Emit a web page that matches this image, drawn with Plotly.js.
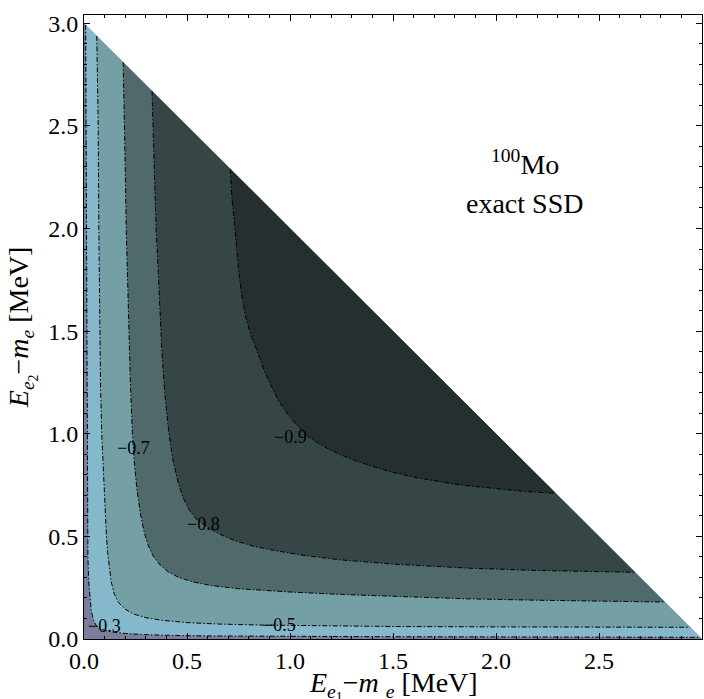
<!DOCTYPE html>
<html>
<head>
<meta charset="utf-8">
<script src="https://cdn.plot.ly/plotly-3.0.1.min.js"></script>
<style>
html,body{margin:0;padding:0;background:#fff;}
#chart svg text { font-family: 'Liberation Serif', 'Times New Roman', Times, serif !important; }
</style>
</head>
<body>
<div id="chart" style="width:704px;height:699px;"></div>
<script>
// Kinematic end point (plot units, MeV)
const Q = 3.0;

// Contour levels and their labels
const levels = [-0.3, -0.5, -0.7, -0.8, -0.9];
const levelLabels = ["\u22120.3", "\u22120.5", "\u22120.7", "\u22120.8", "\u22120.9"];
const labelX = [0.10, 0.95, 0.24, 0.58, 1.00];
const labelY = [0.063, 0.066, 0.93, 0.56, 0.985];

// Axis titles
const xTitle = "<i>E</i><sub><i>e</i><sub>1</sub></sub>\u2212<i>m</i> <sub><i>e</i></sub> [MeV]";
const yTitle = "<i>E</i><sub><i>e</i><sub>2</sub></sub>\u2212<i>m</i><sub><i>e</i></sub> [MeV]";

// Contour lines (E_e1 - m_e, E_e2 - m_e), from upper-left end to lower-right end
const c03x = [0.008, 0.010, 0.011, 0.012, 0.013, 0.016, 0.019, 0.023, 0.028, 0.035, 0.045, 0.058, 0.075, 0.100, 0.140, 0.200, 0.280, 0.400, 0.600, 1.000, 1.500, 2.000, 2.500, 2.992];
const c03y = [2.992, 2.500, 2.000, 1.500, 1.000, 0.600, 0.400, 0.280, 0.200, 0.140, 0.095, 0.068, 0.052, 0.042, 0.034, 0.027, 0.022, 0.018, 0.015, 0.012, 0.011, 0.010, 0.009, 0.008];

const c05x = [0.062, 0.066, 0.069, 0.072, 0.076, 0.080, 0.086, 0.094, 0.102, 0.109, 0.115, 0.122, 0.132, 0.146, 0.167, 0.200, 0.240, 0.300, 0.380, 0.500, 0.650, 0.850, 1.000, 1.250, 1.500, 2.000, 2.500, 2.943];
const c05y = [2.938, 2.700, 2.500, 2.000, 1.500, 1.250, 1.000, 0.800, 0.620, 0.500, 0.420, 0.350, 0.280, 0.222, 0.178, 0.145, 0.122, 0.104, 0.091, 0.080, 0.073, 0.068, 0.066, 0.063, 0.061, 0.059, 0.057, 0.057];

const c07x = [0.190, 0.195, 0.200, 0.205, 0.212, 0.218, 0.225, 0.235, 0.245, 0.258, 0.274, 0.290, 0.310, 0.335, 0.370, 0.410, 0.460, 0.530, 0.620, 0.750, 0.900, 1.000, 1.250, 1.500, 1.850, 2.200, 2.500, 2.820];
const c07y = [2.810, 2.600, 2.300, 2.000, 1.700, 1.450, 1.250, 1.000, 0.850, 0.720, 0.610, 0.530, 0.460, 0.405, 0.360, 0.326, 0.300, 0.278, 0.260, 0.245, 0.234, 0.229, 0.217, 0.207, 0.196, 0.189, 0.184, 0.180];

const c08x = [0.330, 0.335, 0.342, 0.350, 0.360, 0.368, 0.378, 0.392, 0.410, 0.430, 0.455, 0.480, 0.510, 0.550, 0.600, 0.660, 0.730, 0.820, 0.920, 1.050, 1.240, 1.500, 1.870, 2.200, 2.500, 2.675];
const c08y = [2.670, 2.500, 2.250, 2.000, 1.800, 1.600, 1.400, 1.200, 1.020, 0.880, 0.770, 0.690, 0.630, 0.580, 0.545, 0.510, 0.480, 0.453, 0.432, 0.410, 0.386, 0.365, 0.345, 0.334, 0.327, 0.325];

const c09x = [0.710, 0.718, 0.733, 0.748, 0.765, 0.785, 0.810, 0.838, 0.870, 0.905, 0.945, 0.990, 1.035, 1.090, 1.160, 1.240, 1.320, 1.410, 1.500, 1.620, 1.750, 1.850, 2.000, 2.150, 2.290];
const c09y = [2.290, 2.150, 2.000, 1.820, 1.680, 1.570, 1.480, 1.410, 1.320, 1.240, 1.160, 1.095, 1.040, 0.985, 0.940, 0.900, 0.868, 0.838, 0.812, 0.785, 0.763, 0.748, 0.733, 0.718, 0.710];

// Band colours: outside all contours, then inside each level
const outerColor = "#7b7e9d";
const bandColors = ["#86b8cb", "#74a0a5", "#506a6b", "#364647", "#252e30"];

const curvesX = [c03x, c05x, c07x, c08x, c09x];
const curvesY = [c03y, c05y, c07y, c08y, c09y];

const SERIF = "Liberation Serif";

const traces = [];
// kinematically allowed triangle
traces.push({
  x: [0, Q, 0, 0], y: [0, 0, Q, 0],
  type: "scatter", mode: "lines", fill: "toself",
  fillcolor: outerColor, line: {width: 0}, hoverinfo: "skip", showlegend: false
});
for (let i = 0; i < levels.length; i++) {
  traces.push({
    x: curvesX[i].concat([curvesX[i][0]]),
    y: curvesY[i].concat([curvesY[i][0]]),
    type: "scatter", mode: "lines", fill: "toself",
    fillcolor: bandColors[i], line: {width: 0},
    hoverinfo: "skip", showlegend: false
  });
}
for (let i = 0; i < levels.length; i++) {
  traces.push({
    x: curvesX[i], y: curvesY[i],
    type: "scatter", mode: "lines",
    line: {color: "#000", width: 1, dash: "5px,2px,1.5px,2px"},
    hoverinfo: "skip", showlegend: false
  });
}

const annotations = [];
for (let i = 0; i < levels.length; i++) {
  annotations.push({
    x: labelX[i], y: labelY[i], xref: "x", yref: "y",
    text: levelLabels[i], showarrow: false,
    font: {family: SERIF, size: 18, color: "#000"}
  });
}
annotations.push({
  x: 2.14, y: 2.32, xref: "x", yref: "y", showarrow: false,
  text: "<sup>100</sup>Mo",
  font: {family: SERIF, size: 28, color: "#000"}
});
annotations.push({
  x: 2.14, y: 2.12, xref: "x", yref: "y", showarrow: false,
  text: "exact SSD",
  font: {family: SERIF, size: 28, color: "#000"}
});
// axis titles as annotations for exact placement
annotations.push({
  x: 0.5, y: -0.042, xref: "paper", yref: "paper", xanchor: "center", yanchor: "top",
  showarrow: false, text: xTitle,
  font: {family: SERIF, size: 28, color: "#000"}
});
annotations.push({
  x: -0.066, y: 0.5, xref: "paper", yref: "paper", xanchor: "right", yanchor: "middle",
  textangle: -90, showarrow: false, text: yTitle,
  font: {family: SERIF, size: 28, color: "#000"}
});

const axisCommon = {
  showline: true, linecolor: "#000", linewidth: 1, mirror: "ticks",
  ticks: "inside", ticklen: 6, tickwidth: 1, tickcolor: "#000",
  dtick: 0.5, tick0: 0, tickformat: ".1f",
  minor: {ticks: "inside", dtick: 0.1, ticklen: 3, tickwidth: 1, tickcolor: "#000", showgrid: false},
  showgrid: false, zeroline: false,
  tickfont: {family: SERIF, size: 24, color: "#000"}
};

const layout = {
  width: 704, height: 699,
  font: {family: SERIF, color: "#000"},
  margin: {l: 84, r: 2, t: 15, b: 60},
  paper_bgcolor: "#fff", plot_bgcolor: "#fff",
  showlegend: false,
  xaxis: Object.assign({}, axisCommon, {range: [0, Q]}),
  yaxis: Object.assign({}, axisCommon, {range: [0, 3.04]}),
  annotations: annotations
};

Plotly.newPlot("chart", traces, layout, {staticPlot: true, displayModeBar: false});
</script>
</body>
</html>
